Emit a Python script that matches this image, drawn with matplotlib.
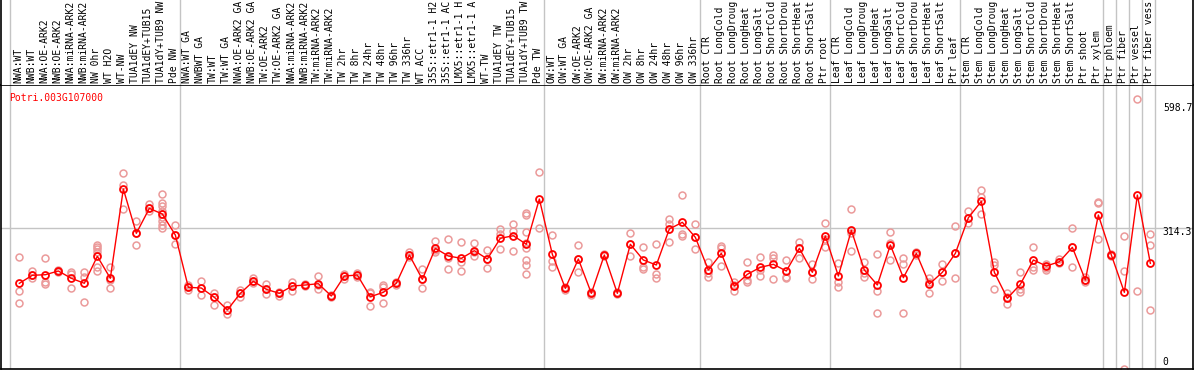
import matplotlib
matplotlib.use("Agg")
import matplotlib.pyplot as plt

GENE = "Potri.003G107000"

# sample labels (truncated to 14 characters as in the source figure)
labels = [
    "NWA:WT", "NWB:WT", "NWA:OE-ARK2", "NWB:OE-ARK2", "NWA:miRNA-ARK2", "NWB:miRNA-ARK2",
    "NW 0hr", "WT H2O", "WT-NW", "TUA1dEY NW", "TUA1dEY+TUB15", "TUA1dY+TUB9 NW", "Pde NW",
    "NWA:WT GA", "NWBWT GA", "TW:WT", "TW:WT GA", "NWA:OE-ARK2 GA", "NWB:OE-ARK2 GA",
    "TW:OE-ARK2", "TW:OE-ARK2 GA", "NWA:miRNA-ARK2", "NWB:miRNA-ARK2", "TW:miRNA-ARK2",
    "TW:miRNA-ARK2", "TW 2hr", "TW 8hr", "TW 24hr", "TW 48hr", "TW 96hr", "TW 336hr",
    "WT ACC", "35S::etr1-1 H2", "35S::etr1-1 AC", "LMX5::etr1-1 H", "LMX5::etr1-1 A",
    "WT-TW", "TUA1dEY TW", "TUA1dEY+TUB15", "TUA1dY+TUB9 TW", "Pde TW",
    "OW:WT", "OW:WT GA", "OW:OE-ARK2", "OW:OE-ARK2 GA", "OW:miRNA-ARK2", "OW:miRNA-ARK2",
    "OW 2hr", "OW 8hr", "OW 24hr", "OW 48hr", "OW 96hr", "OW 336hr",
    "Root CTR", "Root LongCold", "Root LongDroug", "Root LongHeat", "Root LongSalt",
    "Root ShortCold", "Root ShortDrou", "Root ShortHeat", "Root ShortSalt", "Ptr root",
    "Leaf CTR", "Leaf LongCold", "Leaf LongDroug", "Leaf LongHeat", "Leaf LongSalt",
    "Leaf ShortCold", "Leaf ShortDrou", "Leaf ShortHeat", "Leaf ShortSalt", "Ptr leaf",
    "Stem CTR", "Stem LongCold", "Stem LongDroug", "Stem LongHeat", "Stem LongSalt",
    "Stem ShortCold", "Stem ShortDrou", "Stem ShortHeat", "Stem ShortSalt", "Ptr shoot",
    "Ptr xylem", "Ptr phloem", "Ptr fiber", "Ptr vessel", "Ptr fiber vess",
]

# mean expression per sample
means = [
    193.2, 210.8, 212.1, 220.3, 204.2, 193.2, 252.6, 204.2, 400.9, 303.3, 358.3, 345.8, 299.5,
    184.3, 182.8, 162.3, 134.4, 171.1, 197.6, 179.9, 171.1, 187.2, 189.4, 192.3, 165.2,
    209.2, 211.4, 163.6, 173.3, 193.2, 255.5, 202.0, 270.2, 253.3, 248.2, 265.0, 246.7,
    292.3, 298.0, 279.1, 378.8,
    257.0, 182.1, 246.7, 171.1, 255.5, 171.1, 279.1, 244.5, 233.5, 312.8, 327.5, 294.5,
    222.5, 259.2, 187.2, 213.0, 228.4, 235.0, 220.3, 270.2, 217.4, 297.3,
    209.2, 309.9, 222.5, 189.4, 277.5, 205.5, 259.2, 191.6, 217.4, 259.2,
    337.6, 373.8, 217.4, 160.1, 191.0, 244.5, 231.3, 240.7, 272.4, 200.4,
    343.6, 255.5, 173.3, 387.6, 237.2,
]

# individual replicates per sample
replicates = [
    [250.4, 176.9, 149.1], [220.3, 211.4, 204.2], [248.9, 195.4, 192.1], [222.5, 220.3, 218.0],
    [218.7, 213.0, 182.1], [218.7, 207.7, 152.6],
    [277.5, 272.4, 268.0, 262.8, 229.7, 220.9], [229.7, 200.4, 182.1], [435.4, 409.7, 356.1],
    [330.4, 303.9, 277.5], [367.2, 359.0, 353.1],
    [389.2, 369.4, 363.4, 352.4, 339.2, 330.4, 321.6, 314.3], [321.6, 299.5, 279.1],
    [189.4, 184.3, 178.4], [198.2, 182.8, 166.7], [171.1, 162.3, 145.4], [145.4, 134.4, 124.9],
    [178.4, 171.1, 162.3], [204.2, 197.6, 193.2], [191.0, 179.9, 168.9], [174.7, 171.1, 165.2],
    [195.4, 187.2, 176.9], [191.6, 189.4, 187.2], [209.9, 189.4, 179.9], [167.4, 165.2, 163.0],
    [213.0, 209.2, 202.6], [216.5, 211.4, 207.7], [174.7, 171.1, 143.2], [189.4, 185.7, 150.4],
    [196.0, 193.2, 189.4], [262.8, 255.5, 251.7], [224.0, 202.0, 182.1], [286.3, 266.5, 262.8],
    [290.7, 248.2, 224.0], [283.5, 240.7, 220.9], [281.3, 262.8, 254.0], [266.5, 246.7, 226.2],
    [312.8, 301.7, 268.0], [323.1, 309.0, 264.3],
    [347.3, 343.6, 306.8, 281.3, 270.2, 244.5, 233.5, 213.0], [439.0, 314.3],
    [299.5, 242.3, 229.7], [185.0, 182.1, 178.4], [277.5, 246.7, 217.4], [174.0, 171.1, 167.4],
    [257.7, 255.5, 253.3], [173.3, 171.1, 168.9], [303.3, 279.1, 254.0], [273.8, 229.7, 224.0],
    [279.1, 213.6, 204.2], [334.1, 323.1, 283.5], [387.6, 301.1, 298.0], [323.1, 294.5, 268.0],
    [240.7, 215.2, 207.7], [276.0, 270.2, 231.9], [195.4, 189.4, 176.2], [239.4, 200.4, 196.7],
    [250.4, 222.5, 209.9], [255.5, 249.5, 202.6], [244.5, 207.7, 204.2], [284.8, 270.2, 249.5],
    [235.0, 217.4, 202.0], [326.6, 290.1, 273.8],
    [237.2, 196.7, 185.7], [356.1, 303.3, 265.0], [240.7, 215.2, 207.7], [257.0, 176.9, 128.4],
    [306.8, 281.3, 244.5], [249.5, 235.0, 127.1], [262.1, 259.2, 255.5], [204.2, 196.7, 171.1],
    [235.7, 217.4, 198.2], [319.4, 259.2, 205.5],
    [353.1, 337.6, 325.3], [398.7, 382.6, 345.8], [240.7, 233.5, 179.9], [171.1, 163.6, 147.6],
    [217.4, 179.9, 174.7], [273.8, 229.7, 222.5], [235.7, 227.5, 222.5], [246.7, 240.7, 237.2],
    [314.3, 272.4, 229.7], [207.7, 200.4, 196.7],
    [372.9, 369.4, 290.7], [257.7, 255.5, 253.3], [297.3, 220.3, 5.1], [598.7, 176.2],
    [301.1, 277.5, 134.4],
]

# last sample index of each block (vertical separators drawn just after)
block_ends = [-1.07, 12, 40, 52, 62, 72, 83, 84, 85, 86, 87]
y_max, y_mid = 598.7, 314.3

W, H = 1194, 370
fig = plt.figure(figsize=(W / 100, H / 100), dpi=100)
ax = fig.add_axes([1 / W, 1 / H, 1192 / W, 284 / H])
ax_lab = fig.add_axes([1 / W, 285 / H, 1192 / W, 85 / H], sharex=ax)

x = list(range(len(labels)))
grid_kw = dict(color="#c4c4c4", lw=1.0, zorder=0)
for a in (ax, ax_lab):
    for b in block_ends:
        a.axvline(b + 0.38, **grid_kw)
ax.axhline(y_mid, **grid_kw)

rep_x = [i for i, r in enumerate(replicates) for _ in r]
rep_y = [v for r in replicates for v in r]
ax.plot(rep_x, rep_y, ls="none", marker="o", ms=5.0, mfc="none", mec="#eb9a9a",
        mew=1.1, zorder=2)
ax.plot(x, means, color="red", lw=1.0, marker="o", ms=5.0, mfc="none", mec="red",
        mew=1.3, zorder=3)

ax.set_xlim(-1.41, 90.28)
ax.set_ylim(4.4, 630)
ax.set_xticks([])
ax.set_yticks([])
for s in ax.spines.values():
    s.set_color("black")
    s.set_linewidth(1.2)

mono = "DejaVu Sans Mono"
fs = 7.0
ax.text(0.007, 0.955, GENE, transform=ax.transAxes, color="red", family=mono,
        fontsize=fs, ha="left", va="center")
# value labels sit at the right edge, nudged off their reference values
for val, txt, off in [(y_max, "598.7", -20), (y_mid, "314.3", -8), (0, "0", 20)]:
    ax.text(87.96, val + off, txt, family=mono, fontsize=fs, ha="left", va="center")

ax_lab.set_ylim(0, 1)
ax_lab.set_yticks([])
ax_lab.tick_params(axis="x", bottom=False, labelbottom=False)
for k in ("top", "bottom"):
    ax_lab.spines[k].set_visible(False)
for k in ("left", "right"):
    ax_lab.spines[k].set_linewidth(1.2)
for i, lab in enumerate(labels):
    ax_lab.text(i - 0.1, 0.02, lab, rotation=90, ha="center", va="bottom",
                family=mono, fontsize=fs, clip_on=False)

fig.savefig("out.png", dpi=100)
